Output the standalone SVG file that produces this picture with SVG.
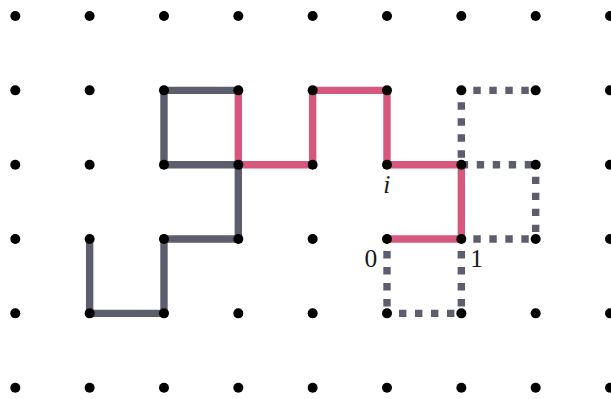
<svg xmlns="http://www.w3.org/2000/svg" xmlns:xlink="http://www.w3.org/1999/xlink" width="611" height="399" viewBox="0 0 611 399">
<style>
.solid{fill:none;stroke-width:7.4;stroke-linejoin:miter}
.gray{stroke:#5c5e6e}
.pink{stroke:#d6587f}
.dash{fill:none;stroke:#5c5e6e;stroke-width:7.4;stroke-dasharray:7.4 8.6;stroke-dashoffset:4}
.dot{fill:#000}
.lbl{font-family:"Liberation Serif","DejaVu Serif",serif;font-size:25.5px;fill:#1a1a1a}
</style>
<defs><circle id="d" r="5" class="dot"/></defs>
<rect width="611" height="399" fill="#fff"/>
<g id="connectors">
<polyline class="solid gray" points="89.64,239.02 89.64,313.36 163.98,313.36 163.98,239.02 238.32,239.02 238.32,164.68 163.98,164.68 163.98,90.34 238.32,90.34"/>
<g id="dashed">
<line class="dash" x1="387" y1="239.02" x2="387" y2="313.36"/>
<line class="dash" x1="387" y1="313.36" x2="461.34" y2="313.36"/>
<line class="dash" x1="461.34" y1="239.02" x2="461.34" y2="313.36"/>
<line class="dash" x1="461.34" y1="239.02" x2="535.68" y2="239.02"/>
<line class="dash" x1="535.68" y1="164.68" x2="535.68" y2="239.02"/>
<line class="dash" x1="461.34" y1="164.68" x2="535.68" y2="164.68" style="stroke-dashoffset:0.6"/>
<line class="dash" x1="461.34" y1="90.34" x2="461.34" y2="164.68"/>
<line class="dash" x1="461.34" y1="90.34" x2="535.68" y2="90.34"/>
</g>
<polyline class="solid pink" points="238.32,90.34 238.32,164.68 312.66,164.68 312.66,90.34 387,90.34 387,164.68 461.34,164.68 461.34,239.02 387,239.02"/>
</g>
<g id="nodes">
<g id="row0"><use xlink:href="#d" x="15.3" y="16"/><use xlink:href="#d" x="89.64" y="16"/><use xlink:href="#d" x="163.98" y="16"/><use xlink:href="#d" x="238.32" y="16"/><use xlink:href="#d" x="312.66" y="16"/><use xlink:href="#d" x="387" y="16"/><use xlink:href="#d" x="461.34" y="16"/><use xlink:href="#d" x="535.68" y="16"/><use xlink:href="#d" x="610.02" y="16"/></g>
<g id="row1"><use xlink:href="#d" x="15.3" y="90.34"/><use xlink:href="#d" x="89.64" y="90.34"/><use xlink:href="#d" x="163.98" y="90.34"/><use xlink:href="#d" x="238.32" y="90.34"/><use xlink:href="#d" x="312.66" y="90.34"/><use xlink:href="#d" x="387" y="90.34"/><use xlink:href="#d" x="461.34" y="90.34"/><use xlink:href="#d" x="535.68" y="90.34"/><use xlink:href="#d" x="610.02" y="90.34"/></g>
<g id="row2"><use xlink:href="#d" x="15.3" y="164.68"/><use xlink:href="#d" x="89.64" y="164.68"/><use xlink:href="#d" x="163.98" y="164.68"/><use xlink:href="#d" x="238.32" y="164.68"/><use xlink:href="#d" x="312.66" y="164.68"/><use xlink:href="#d" x="387" y="164.68"/><use xlink:href="#d" x="461.34" y="164.68"/><use xlink:href="#d" x="535.68" y="164.68"/><use xlink:href="#d" x="610.02" y="164.68"/></g>
<g id="row3"><use xlink:href="#d" x="15.3" y="239.02"/><use xlink:href="#d" x="89.64" y="239.02"/><use xlink:href="#d" x="163.98" y="239.02"/><use xlink:href="#d" x="238.32" y="239.02"/><use xlink:href="#d" x="312.66" y="239.02"/><use xlink:href="#d" x="387" y="239.02"/><use xlink:href="#d" x="461.34" y="239.02"/><use xlink:href="#d" x="535.68" y="239.02"/><use xlink:href="#d" x="610.02" y="239.02"/></g>
<g id="row4"><use xlink:href="#d" x="15.3" y="313.36"/><use xlink:href="#d" x="89.64" y="313.36"/><use xlink:href="#d" x="163.98" y="313.36"/><use xlink:href="#d" x="238.32" y="313.36"/><use xlink:href="#d" x="312.66" y="313.36"/><use xlink:href="#d" x="387" y="313.36"/><use xlink:href="#d" x="461.34" y="313.36"/><use xlink:href="#d" x="535.68" y="313.36"/><use xlink:href="#d" x="610.02" y="313.36"/></g>
<g id="row5"><use xlink:href="#d" x="15.3" y="387.7"/><use xlink:href="#d" x="89.64" y="387.7"/><use xlink:href="#d" x="163.98" y="387.7"/><use xlink:href="#d" x="238.32" y="387.7"/><use xlink:href="#d" x="312.66" y="387.7"/><use xlink:href="#d" x="387" y="387.7"/><use xlink:href="#d" x="461.34" y="387.7"/><use xlink:href="#d" x="535.68" y="387.7"/><use xlink:href="#d" x="610.02" y="387.7"/></g>
</g>
<g id="labels">
<text class="lbl" x="386.7" y="192.7" text-anchor="middle" font-style="italic">i</text>
<text class="lbl" x="370.8" y="267.3" text-anchor="middle">0</text>
<text class="lbl" x="476.7" y="267" text-anchor="middle">1</text>
</g>
</svg>
